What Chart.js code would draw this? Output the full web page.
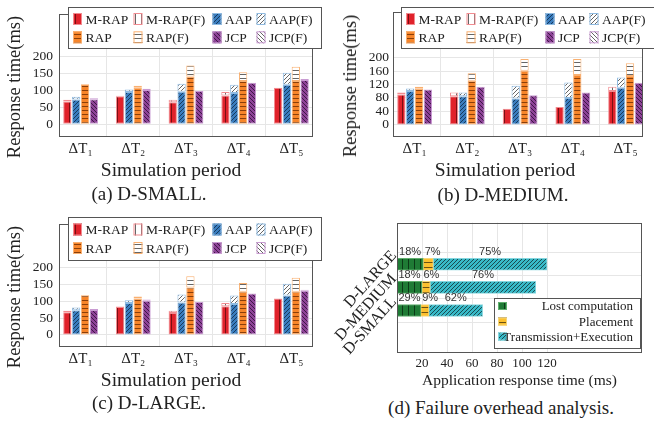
<!DOCTYPE html>
<html>
<head>
<meta charset="utf-8">
<script src="https://cdn.jsdelivr.net/npm/chart.js@4.4.0/dist/chart.umd.min.js"></script>
<style>
  body { margin: 0; background: #fff; width: 654px; height: 423px; overflow: hidden; position: relative;
         font-family: "Liberation Serif", "DejaVu Serif", serif; color: #222; }
  canvas { position: absolute; }
  .cap { position: absolute; font-size: 19px; line-height: 22px; white-space: nowrap; transform: translateX(-50%); }
  .xt { position: absolute; font-size: 19.5px; line-height: 22px; white-space: nowrap; transform: translate(-50%, -50%); }
  .yt { position: absolute; font-size: 18.5px; line-height: 22px; white-space: nowrap; transform: translate(-50%, -50%) rotate(-90deg); }
</style>
</head>
<body>
<canvas id="chartA" width="327" height="180" style="left:0;top:0"></canvas>
<canvas id="chartB" width="327" height="180" style="left:327px;top:0"></canvas>
<canvas id="chartC" width="327" height="180" style="left:0;top:210px"></canvas>
<canvas id="chartD" width="327" height="180" style="left:327px;top:210px"></canvas>

<div class="yt" style="left:13.5px;top:87px">Response time(ms)</div>
<div class="yt" style="left:350px;top:86px">Response time(ms)</div>
<div class="yt" style="left:13.5px;top:297px">Response time(ms)</div>
<div class="xt" style="left:171px;top:170px">Simulation period</div>
<div class="xt" style="left:505px;top:170px">Simulation period</div>
<div class="xt" style="left:171px;top:380px">Simulation period</div>

<div class="cap" style="left:149px;top:183px">(a) D-SMALL.</div>
<div class="cap" style="left:503px;top:184px">(b) D-MEDIUM.</div>
<div class="cap" style="left:149px;top:392px">(c) D-LARGE.</div>
<div class="cap" style="left:501px;top:397px">(d) Failure overhead analysis.</div>

<script>
// ========================================
// DATA
// ========================================
const periods = ['ΔT₁', 'ΔT₂', 'ΔT₃', 'ΔT₄', 'ΔT₅'];
const methodNames = ['M-RAP', 'M-RAP(F)', 'AAP', 'AAP(F)', 'RAP', 'RAP(F)', 'JCP', 'JCP(F)'];

// (a) D-SMALL, response time (ms) without / with failure
const smallMRAP  = [67, 83, 65, 85, 108];
const smallMRAPF = [72, 84, 72, 95, 108];
const smallAAP   = [73, 95, 96, 92, 117];
const smallAAPF  = [81, 103, 120, 117, 152];
const smallRAP   = [118, 108, 141, 128, 128];
const smallRAPF  = [118, 114, 174, 154, 170];
const smallJCP   = [74, 101, 98, 123, 131];
const smallJCPF  = [77, 105, 98, 123, 134];

// (b) D-MEDIUM
const mediumMRAP  = [90, 85, 48, 53, 101];
const mediumMRAPF = [96, 96, 48, 53, 113];
const mediumAAP   = [101, 85, 78, 80, 110];
const mediumAAPF  = [108, 96, 116, 126, 141];
const mediumRAP   = [107, 131, 161, 148, 145];
const mediumRAPF  = [113, 153, 196, 196, 183];
const mediumJCP   = [105, 113, 88, 96, 125];
const mediumJCPF  = [105, 113, 88, 96, 125];

// (c) D-LARGE
const largeMRAP  = [67, 83, 65, 85, 108];
const largeMRAPF = [72, 84, 72, 95, 108];
const largeAAP   = [73, 95, 96, 92, 117];
const largeAAPF  = [81, 103, 120, 117, 152];
const largeRAP   = [118, 108, 141, 128, 128];
const largeRAPF  = [118, 114, 174, 154, 170];
const largeJCP   = [74, 101, 98, 123, 131];
const largeJCPF  = [77, 105, 98, 123, 134];

const smallTicks = [0, 50, 100, 150, 200];
const mediumTicks = [0, 40, 80, 120, 160, 200];
const largeTicks = [0, 50, 100, 150, 200];

// (d) failure overhead, ms per part (bottom to top)
const datasetsD = ['D-SMALL', 'D-MEDIUM', 'D-LARGE'];
const overheadParts = ['Lost computation', 'Placement', 'Transmission+Execution'];
const lostComp  = [19, 20, 21];
const placement = [6.5, 6.5, 8];
const transExec = [43, 84.5, 91];
const pctLost  = [29, 18, 18];
const pctPlace = [9, 6, 7];
const pctTrans = [62, 76, 75];
const overheadTicks = [20, 40, 60, 80, 100, 120];

// ========================================
// STYLES
// ========================================
const TEXT = '#222';
const GRID = '#e6e6e6';
const SERIF = '"Liberation Serif", "DejaVu Serif", serif';
Chart.defaults.font.family = SERIF;
Chart.defaults.font.weight = 'normal';
Chart.defaults.color = TEXT;

const methodStyle = [
    { fill: '#e0222b', line: '#7a0f14', edge: '#f28b90', kind: 'v',  size: 6 },
    { fill: '#3a7dbf', line: '#163a5e', edge: '#8fbbe2', kind: 'ne', size: 4 },
    { fill: '#f7852a', line: '#8a3f0a', edge: '#f9b070', kind: 'h',  size: 4 },
    { fill: '#8e4398', line: '#3f1746', edge: '#c99bd2', kind: 'nw', size: 4 }
];

function makePattern(bg, line, kind, size) {
    const c = document.createElement('canvas');
    c.width = size; c.height = size;
    const g = c.getContext('2d');
    g.fillStyle = bg;
    g.fillRect(0, 0, size, size);
    g.strokeStyle = line;
    g.lineWidth = 1;
    g.beginPath();
    if (kind === 'v') {
        g.moveTo(Math.floor(size / 2) + 0.5, 0); g.lineTo(Math.floor(size / 2) + 0.5, size);
    } else if (kind === 'h') {
        g.moveTo(0, Math.floor(size / 2) + 0.5); g.lineTo(size, Math.floor(size / 2) + 0.5);
    } else if (kind === 'ne') {
        g.moveTo(0, size); g.lineTo(size, 0);
        g.moveTo(-1, 1); g.lineTo(1, -1);
        g.moveTo(size - 1, size + 1); g.lineTo(size + 1, size - 1);
    } else {
        g.moveTo(0, 0); g.lineTo(size, size);
        g.moveTo(size - 1, -1); g.lineTo(size + 1, 1);
        g.moveTo(-1, size - 1); g.lineTo(1, size + 1);
    }
    g.stroke();
    return g.createPattern(c, 'repeat');
}

// ========================================
// PLUGINS
// ========================================
const framePlugin = {
    id: 'frame',
    afterDatasetsDraw(chart) {
        const { ctx, chartArea: a } = chart;
        ctx.save();
        ctx.strokeStyle = '#555';
        ctx.lineWidth = 1;
        ctx.strokeRect(Math.round(a.left) + 0.5, Math.round(a.top) + 0.5,
                       Math.round(a.right - a.left) - 1, Math.round(a.bottom - a.top) - 1);
        ctx.restore();
    }
};

const gridLegendPlugin = {
    id: 'gridLegend',
    afterDraw(chart, args, opts) {
        if (!opts.box) return;
        const ctx = chart.ctx;
        const [x0, y0, x1, y1] = opts.box;
        ctx.save();
        ctx.fillStyle = '#fff';
        ctx.fillRect(x0, y0, x1 - x0, y1 - y0);
        ctx.strokeStyle = '#555';
        ctx.lineWidth = 1;
        ctx.strokeRect(x0 + 0.5, y0 + 0.5, x1 - x0 - 1, y1 - y0 - 1);
        ctx.font = '13.5px ' + SERIF;
        ctx.textBaseline = 'middle';
        chart.data.datasets.forEach((ds, i) => {
            const col = i % 4, row = Math.floor(i / 4);
            const sx = x0 + opts.cols[col], sy = opts.rows[row];
            ctx.fillStyle = ds.backgroundColor;
            ctx.fillRect(sx, sy - 6, 9, 12);
            ctx.strokeStyle = ds.borderColor;
            ctx.strokeRect(sx + 0.5, sy - 5.5, 8, 11);
            ctx.fillStyle = TEXT;
            ctx.fillText(ds.label, sx + 12.5, sy + 1);
        });
        ctx.restore();
    }
};

const listLegendPlugin = {
    id: 'listLegend',
    afterDraw(chart, args, opts) {
        if (!opts.box) return;
        const ctx = chart.ctx;
        const [x0, y0, x1, y1] = opts.box;
        ctx.save();
        ctx.fillStyle = '#fff';
        ctx.fillRect(x0, y0, x1 - x0, y1 - y0);
        ctx.strokeStyle = '#555';
        ctx.lineWidth = 1;
        ctx.strokeRect(x0 + 0.5, y0 + 0.5, x1 - x0 - 1, y1 - y0 - 1);
        ctx.font = '13px ' + SERIF;
        ctx.textBaseline = 'middle';
        ctx.textAlign = 'right';
        chart.data.datasets.forEach((ds, i) => {
            const sy = opts.rows[i];
            ctx.fillStyle = ds.backgroundColor;
            ctx.fillRect(x0 + 4, sy - 4, 9, 8);
            ctx.strokeStyle = ds.borderColor;
            ctx.strokeRect(x0 + 4.5, sy - 3.5, 8, 7);
            ctx.fillStyle = TEXT;
            ctx.fillText(ds.label, opts.textRight, sy + 1);
        });
        ctx.restore();
    }
};

// percentage labels: centred over a segment, but never starting before it
const pctPlugin = {
    id: 'pctLabels',
    afterDatasetsDraw(chart, args, opts) {
        const ctx = chart.ctx;
        ctx.save();
        ctx.font = '11px "Liberation Sans", Arial, sans-serif';
        ctx.fillStyle = '#333';
        ctx.textAlign = 'left';
        ctx.textBaseline = 'middle';
        opts.values.forEach((arr, di) => {
            chart.getDatasetMeta(di).data.forEach((el, j) => {
                const p = el.getProps(['x', 'y', 'base'], true);
                const txt = arr[j] + '%';
                const w = ctx.measureText(txt).width;
                const tx = Math.max(p.base + 1.5, (p.x + p.base) / 2 - w / 2);
                ctx.fillText(txt, tx, p.y - 12);
            });
        });
        ctx.restore();
    }
};

// ========================================
// RESPONSE TIME CHARTS (a, b, c)
// ========================================
function buildMethodDatasets(series) {
    const list = [];
    series.forEach((pair, m) => {
        const st = methodStyle[m];
        const [base, withFail] = pair;
        list.push({
            label: methodNames[m * 2],
            data: base.map((v, i) => ({ x: i, y: v })),
            stack: 's' + m,
            backgroundColor: makePattern(st.fill, st.line, st.kind, st.size),
            borderColor: st.edge
        });
        list.push({
            label: methodNames[m * 2 + 1],
            data: withFail.map((v, i) => ({ x: i, y: Math.max(v - base[i], 0) })),
            stack: 's' + m,
            backgroundColor: makePattern('#ffffff', '#666', st.kind, st.size),
            borderColor: st.edge
        });
    });
    return list;
}

function renderResponseChart(id, series, yTicks, L) {
    new Chart(document.getElementById(id), {
        type: 'bar',
        data: { datasets: buildMethodDatasets(series) },
        options: {
            responsive: false,
            animation: false,
            categoryPercentage: 0.67,
            barPercentage: 0.94,
            borderWidth: 1,
            borderSkipped: false,
            layout: { padding: { top: 5, right: L.right, left: 0, bottom: 0 } },
            plugins: {
                legend: { display: false },
                tooltip: { enabled: false },
                gridLegend: { box: L.legendBox, cols: [5, 65.5, 144.5, 188.5], rows: L.rows }
            },
            scales: {
                x: {
                    type: 'linear', min: L.xMin, max: L.xMax, offset: false,
                    grid: { color: GRID, drawTicks: false },
                    border: { display: false },
                    afterBuildTicks: s => { s.ticks = periods.map((p, i) => ({ value: i })); },
                    afterFit: s => { s.height = 43; },
                    ticks: { callback: v => periods[v], font: { size: 15 }, padding: 3, maxRotation: 0, autoSkip: false }
                },
                y: {
                    stacked: true, min: L.yMin, max: L.yMax,
                    grid: { color: GRID, drawTicks: false },
                    border: { display: false },
                    afterBuildTicks: s => { s.ticks = yTicks.map(v => ({ value: v })); },
                    afterFit: s => { s.width = L.yWidth; },
                    ticks: { font: { size: 13.5 }, padding: L.tickPad }
                }
            }
        },
        plugins: [framePlugin, gridLegendPlugin]
    });
}

// ========================================
// FAILURE OVERHEAD CHART (d)
// ========================================
function renderOverheadChart() {
    const parts = [lostComp, placement, transExec];
    const looks = [
        { fill: '#1f7b35', line: '#0b3a17', edge: '#5fae6d', kind: 'v',  size: 6 },
        { fill: '#fcc02e', line: '#6b5213', edge: '#f6d67a', kind: 'h',  size: 5 },
        { fill: '#38bac8', line: '#1a4c52', edge: '#86d6de', kind: 'ne', size: 4 }
    ];
    new Chart(document.getElementById('chartD'), {
        type: 'bar',
        data: {
            datasets: parts.map((arr, k) => ({
                label: overheadParts[k],
                data: arr.map((v, i) => ({ x: v, y: i })),
                stack: 'all',
                backgroundColor: makePattern(looks[k].fill, looks[k].line, looks[k].kind, looks[k].size),
                borderColor: looks[k].edge
            }))
        },
        options: {
            indexAxis: 'y',
            responsive: false,
            animation: false,
            barThickness: 12,
            borderWidth: 1,
            borderSkipped: false,
            layout: { padding: { top: 12, right: 12, left: 0, bottom: 0 } },
            plugins: {
                legend: { display: false },
                tooltip: { enabled: false },
                listLegend: { box: [167, 88, 314, 139], rows: [96, 111.5, 126.5], textRight: 306 },
                pctLabels: { values: [pctLost, pctPlace, pctTrans] }
            },
            scales: {
                x: {
                    type: 'linear', stacked: true, min: 0, max: 196,
                    grid: { color: GRID, drawTicks: false },
                    border: { display: false },
                    afterBuildTicks: s => { s.ticks = overheadTicks.map(v => ({ value: v })); },
                    afterFit: s => { s.height = 37; },
                    ticks: { font: { size: 13 }, padding: 3, maxRotation: 0, autoSkip: false },
                    title: { display: true, text: 'Application response time (ms)', font: { size: 15.5 }, padding: { top: 0, bottom: 0 } }
                },
                y: {
                    type: 'linear', stacked: true, min: -0.9, max: 2.86,
                    grid: { color: GRID, drawTicks: false },
                    border: { display: false },
                    afterBuildTicks: s => { s.ticks = datasetsD.map((d, i) => ({ value: i })); },
                    afterFit: s => { s.width = 70; },
                    ticks: { callback: v => datasetsD[v], font: { size: 16 }, padding: 3, labelOffset: -11,
                             minRotation: 48, maxRotation: 48 }
                }
            }
        },
        plugins: [framePlugin, listLegendPlugin, pctPlugin]
    });
}

// ========================================
// INITIALIZE
// ========================================
renderResponseChart('chartA',
    [[smallMRAP, smallMRAPF], [smallAAP, smallAAPF], [smallRAP, smallRAPF], [smallJCP, smallJCPF]],
    smallTicks,
    { right: 14, yWidth: 59, tickPad: 6, yMin: -38, yMax: 326, xMin: -0.41, xMax: 4.41,
      legendBox: [68, 7, 322, 49], rows: [19, 37.3] });

renderResponseChart('chartB',
    [[mediumMRAP, mediumMRAPF], [mediumAAP, mediumAAPF], [mediumRAP, mediumRAPF], [mediumJCP, mediumJCPF]],
    mediumTicks,
    { right: 11, yWidth: 66, tickPad: 4, yMin: -36, yMax: 335, xMin: -0.41, xMax: 4.33,
      legendBox: [74, 7, 330, 49], rows: [19, 37.3] });

renderResponseChart('chartC',
    [[largeMRAP, largeMRAPF], [largeAAP, largeAAPF], [largeRAP, largeRAPF], [largeJCP, largeJCPF]],
    largeTicks,
    { right: 14, yWidth: 59, tickPad: 6, yMin: -36, yMax: 329, xMin: -0.41, xMax: 4.41,
      legendBox: [68, 7, 322, 51], rows: [19.5, 38] });

renderOverheadChart();
</script>
</body>
</html>
